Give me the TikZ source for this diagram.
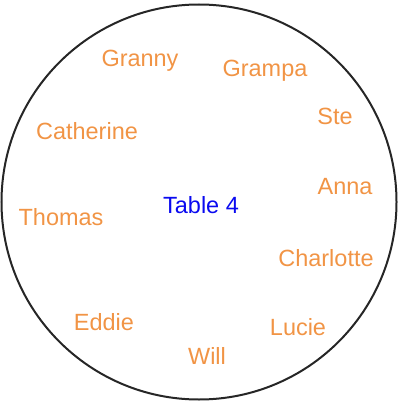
\documentclass[tikz,border=0pt]{standalone}
\usepackage{fontspec}
\setmainfont{Liberation Sans}
\usepackage{tikz}

\definecolor{guestorange}{RGB}{241,148,69}
\definecolor{tableblue}{RGB}{10,10,240}

\begin{document}
\begin{tikzpicture}[
  x=0.75pt, y=-0.75pt,
  guest/.style = {text=guestorange, inner sep=0pt,
                  font=\fontsize{17.6}{20}\selectfont},
  tbl/.style   = {text=tableblue, inner sep=0pt,
                  font=\fontsize{17.6}{20}\selectfont},
  rim/.style   = {draw=black!85, line width=1.5pt}
]
\useasboundingbox (0,0) rectangle (398,406);
\coordinate (ctr) at (199,202);
\draw[rim] (ctr) circle[radius=197.5];
\node[tbl]   (tab)  at (201,205) {Table 4};
\node[guest] (gny)  at (140,61)  {Granny};
\node[guest] (gpa)  at (265,71)  {Grampa};
\node[guest] (ste)  at (335,116) {Ste};
\node[guest] (cat)  at (87,131)  {Catherine};
\node[guest] (ann)  at (345,187) {Anna};
\node[guest] (tho)  at (61,217)  {Thomas};
\node[guest] (cha)  at (326,258) {Charlotte};
\node[guest] (edd)  at (104,322) {Eddie};
\node[guest] (luc)  at (298,327) {Lucie};
\node[guest] (wil)  at (207,356) {Will};
\end{tikzpicture}
\end{document}
